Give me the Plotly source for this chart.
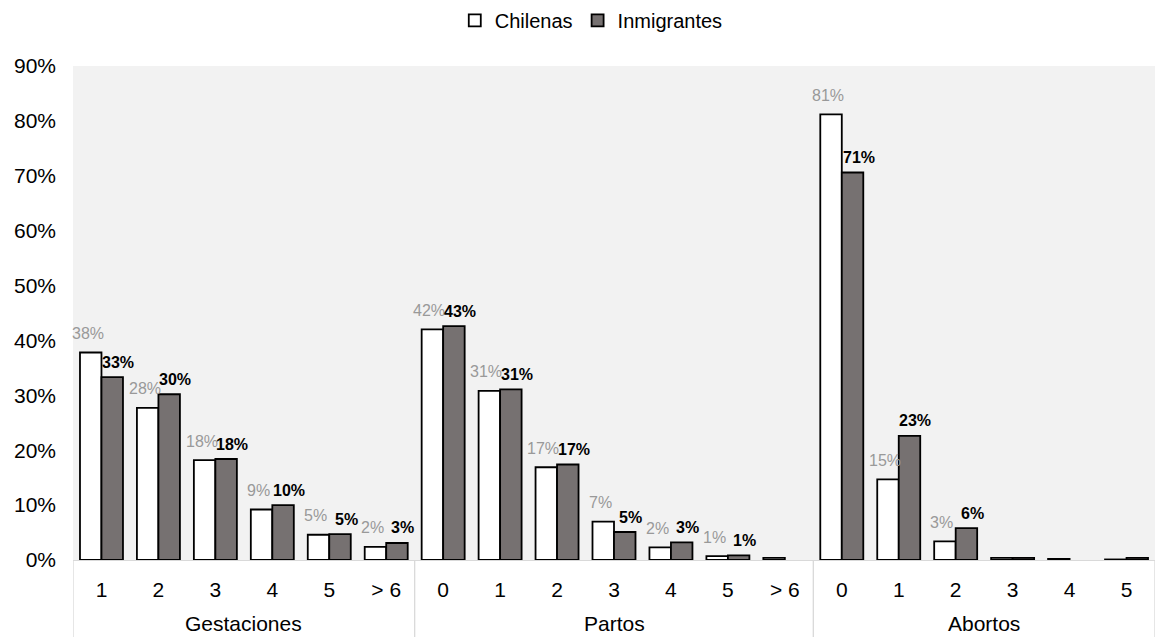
import plotly.graph_objects as go

# Grouped categories: parent group and child category for every bar pair
grupos = ["Gestaciones"] * 6 + ["Partos"] * 7 + ["Abortos"] * 6
categorias = ["1", "2", "3", "4", "5", "> 6",
              "0", "1", "2", "3", "4", "5", "> 6",
              "0", "1", "2", "3", "4", "5"]

# Percentages per category (None = no bar)
chilenas = [37.8, 27.7, 18.2, 9.2, 4.6, 2.4,
            42.0, 30.8, 16.9, 7.0, 2.3, 0.7, 0.4,
            81.2, 14.7, 3.4, 0.4, 0.2, 0.1]
inmigrantes = [33.3, 30.2, 18.4, 10.0, 4.7, 3.1,
               42.6, 31.1, 17.4, 5.1, 3.2, 0.85, None,
               70.6, 22.6, 5.8, 0.4, None, 0.4]

y_ticks = list(range(0, 91, 10))

FONT = "Liberation Sans, Arial, sans-serif"
BAR_GAP = 0.245
half = (1 - BAR_GAP) / 4  # centre offset of each bar within a category
pos = list(range(len(categorias)))

fig = go.Figure()
fig.add_trace(go.Bar(
    name="Chilenas", x=pos, y=chilenas,
    marker=dict(color="#ffffff", line=dict(color="#000000", width=1.8)),
))
fig.add_trace(go.Bar(
    name="Inmigrantes", x=pos, y=inmigrantes,
    marker=dict(color="#767171", line=dict(color="#000000", width=1.8)),
))

annotations = []
# Value labels above each bar (values that round to 0% stay unlabeled)
for i, (c, m) in enumerate(zip(chilenas, inmigrantes)):
    if c is not None and round(c) >= 1:
        annotations.append(dict(
            x=i - half, y=c, xref="x", yref="y", text=f"{c:.0f}%",
            showarrow=False, yanchor="middle", xanchor="center",
            xshift=-3, yshift=19,
            font=dict(family=FONT, size=16, color="#999999"),
        ))
    if m is not None and round(m) >= 1:
        annotations.append(dict(
            x=i + half, y=m, xref="x", yref="y", text=f"<b>{m:.0f}%</b>",
            showarrow=False, yanchor="middle", xanchor="center",
            xshift=6, yshift=15,
            font=dict(family=FONT, size=16, color="#000000"),
        ))

# Group labels under the category labels, and dividers between groups
shapes = []
orden_grupos = list(dict.fromkeys(grupos))
edges = [-0.5]
for g in orden_grupos:
    idx = [i for i, v in enumerate(grupos) if v == g]
    annotations.append(dict(
        x=(idx[0] + idx[-1]) / 2, y=0, xref="x", yref="paper",
        text=g, showarrow=False, yanchor="middle", xanchor="center",
        yshift=-63, font=dict(family=FONT, size=21, color="#000000"),
    ))
    edges.append(idx[-1] + 0.5)
for e in edges:
    shapes.append(dict(
        type="line", xref="x", yref="paper", x0=e, x1=e, y0=0, y1=-0.2,
        line=dict(color="#d9d9d9", width=1.3),
    ))

fig.update_layout(
    width=1157, height=637,
    margin=dict(l=73, r=2, t=66, b=77),
    paper_bgcolor="#ffffff",
    plot_bgcolor="#f2f2f2",
    barmode="group",
    bargap=BAR_GAP,
    bargroupgap=0,
    font=dict(family=FONT, color="#000000"),
    showlegend=True,
    legend=dict(
        orientation="h", x=0.479, xanchor="center",
        yref="container", y=0.968, yanchor="middle",
        font=dict(family=FONT, size=20, color="#000000"),
        itemwidth=30, traceorder="normal",
    ),
    annotations=annotations,
    shapes=shapes,
)
fig.update_xaxes(
    range=[-0.5, len(categorias) - 0.5],
    tickvals=pos, ticktext=categorias,
    showgrid=False, zeroline=False, ticks="",
    showline=True, linecolor="#d9d9d9", linewidth=1.3,
    ticklabelstandoff=11,
    tickfont=dict(family=FONT, size=21, color="#000000"),
)
fig.update_yaxes(
    range=[0, 90], tickvals=y_ticks, ticktext=[f"{v}%" for v in y_ticks],
    showgrid=False, zeroline=False, showline=False,
    ticks="", ticklabelstandoff=16,
    tickfont=dict(family=FONT, size=21, color="#000000"),
)

fig.write_html("out.html")
